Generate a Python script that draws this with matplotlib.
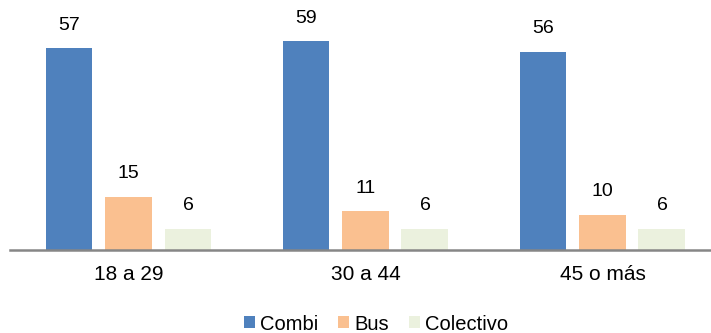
import matplotlib.pyplot as plt
import numpy as np

# Datos por grupo de edad
grupos = ["18 a 29", "30 a 44", "45 o más"]
combi = [57, 59, 56]
bus = [15, 11, 10]
colectivo = [6, 6, 6]

series = [("Combi", combi, "#4F81BD"),
          ("Bus", bus, "#FAC090"),
          ("Colectivo", colectivo, "#EBF1DE")]

plt.rcParams["font.family"] = ["Liberation Sans", "DejaVu Sans"]

fig = plt.figure(figsize=(7.11, 3.33), dpi=100)
ax = fig.add_axes([10 / 711, 83 / 333, 701 / 711, 250 / 333])

x = np.arange(len(grupos))
ancho = 0.198
desplaz = 0.251

for i, (nombre, valores, color) in enumerate(series):
    pos = x + (i - 1) * desplaz
    barras = ax.bar(pos, valores, width=ancho, color=color, label=nombre, zorder=2)
    for b, v in zip(barras, valores):
        ax.annotate(str(v), (b.get_x() + b.get_width() / 2, v),
                    xytext=(0, 16.5), textcoords="offset points",
                    ha="center", va="center", fontsize=14)

ax.set_xlim(-0.5, 2.458)
ax.set_ylim(0, 70.6)
ax.set_yticks([])
ax.set_xticks(x)
ax.set_xticklabels(grupos, fontsize=15)
ax.tick_params(axis="x", length=0, pad=11)
for lado in ["top", "right", "left"]:
    ax.spines[lado].set_visible(False)
ax.spines["bottom"].set_color("#868686")
ax.spines["bottom"].set_linewidth(1.8)

fig.legend(loc="center", bbox_to_anchor=(376 / 711, 9 / 333), ncol=3,
           frameon=False, fontsize=14.5, handlelength=0.55, handleheight=0.55,
           handletextpad=0.25, columnspacing=1.0)

plt.savefig("out.png", dpi=100)
